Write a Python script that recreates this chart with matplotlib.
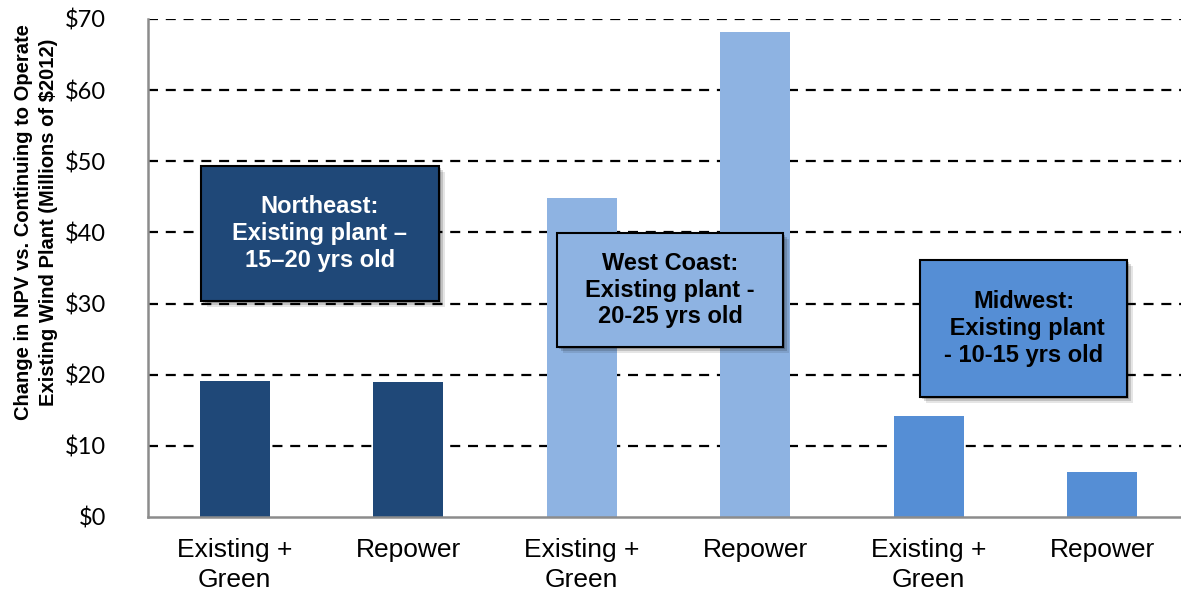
import matplotlib
matplotlib.use("Agg")
import matplotlib.pyplot as plt
from matplotlib.patches import Rectangle

categories = ["Existing +\nGreen", "Repower", "Existing +\nGreen", "Repower", "Existing +\nGreen", "Repower"]
values = [19.1, 19.0, 44.8, 68.2, 14.2, 6.3]
regions = ["Northeast", "Northeast", "West Coast", "West Coast", "Midwest", "Midwest"]
yticks = [0, 10, 20, 30, 40, 50, 60, 70]
ytick_labels = ["$0", "$10", "$20", "$30", "$40", "$50", "$60", "$70"]
box_texts = ["Northeast:\nExisting plant \u2013\n15\u201320 yrs old",
             "West Coast:\nExisting plant -\n20-25 yrs old",
             "Midwest:\n Existing plant\n- 10-15 yrs old"]
ylabel = "Change in NPV vs. Continuing to Operate\nExisting Wind Plant (Millions of $2012)"

colors = {"Northeast": "#1F4878", "West Coast": "#8EB3E2", "Midwest": "#558ED5"}
text_colors = {"Northeast": "white", "West Coast": "black", "Midwest": "black"}

W, H = 1181, 598
fig = plt.figure(figsize=(W / 100, H / 100), dpi=100)
ax = fig.add_axes([148 / W, 1 - 517 / H, (1189 - 148) / W, (517 - 19) / H])

x = list(range(len(values)))
ax.bar(x, values, width=0.403, color=[colors[r] for r in regions], zorder=3)
ax.set_xlim(-0.5, len(values) - 0.5)
ax.set_ylim(0, 70)
ax.set_yticks(yticks)
ax.set_yticklabels(ytick_labels, fontfamily="Lato", fontsize=17)
ax.set_xticks(x)
ax.set_xticklabels(categories, fontfamily="Liberation Sans", fontsize=19, linespacing=1.3)
ax.tick_params(axis="y", length=0, pad=30)
ax.tick_params(axis="x", length=0, pad=15)

for v in yticks[1:]:
    ax.axhline(v, color="black", lw=1.6, ls=(0, (4.5, 3.5)), zorder=2)

for s in ["top", "right"]:
    ax.spines[s].set_visible(False)
for s in ["left", "bottom"]:
    ax.spines[s].set_color("#8C8C8C")
    ax.spines[s].set_linewidth(1.8)
    ax.spines[s].set_zorder(4)

fig.text(36 / W, 1 - 222 / H, ylabel, rotation=90, ha="center", va="center",
         fontfamily="Liberation Sans", fontweight="bold", fontsize=14.5,
         linespacing=1.35, multialignment="center")

# annotation boxes (pixel layout)
boxes = [(201, 166, 439, 301, "Northeast"), (557, 233, 783, 347, "West Coast"),
         (920, 260, 1127, 397, "Midwest")]
for (x0, y0, x1, y1, reg), txt in zip(boxes, box_texts):
    for k, a in [(6, 0.10), (4, 0.15), (2, 0.2)]:
        fig.patches.append(Rectangle(((x0 + k) / W, 1 - (y1 + k) / H), (x1 - x0) / W, (y1 - y0) / H,
                                     transform=fig.transFigure, facecolor="black", alpha=a,
                                     edgecolor="none", zorder=5))
    fig.patches.append(Rectangle((x0 / W, 1 - y1 / H), (x1 - x0) / W, (y1 - y0) / H,
                                 transform=fig.transFigure, facecolor=colors[reg],
                                 edgecolor="black", lw=1.5, zorder=6))
    fig.text((x0 + x1) / 2 / W, 1 - (y0 + y1) / 2 / H, txt, ha="center", va="center",
             fontfamily="Liberation Sans", fontweight="bold", fontsize=17,
             color=text_colors[reg], linespacing=1.2, zorder=7)

fig.savefig("out.png", dpi=100)
